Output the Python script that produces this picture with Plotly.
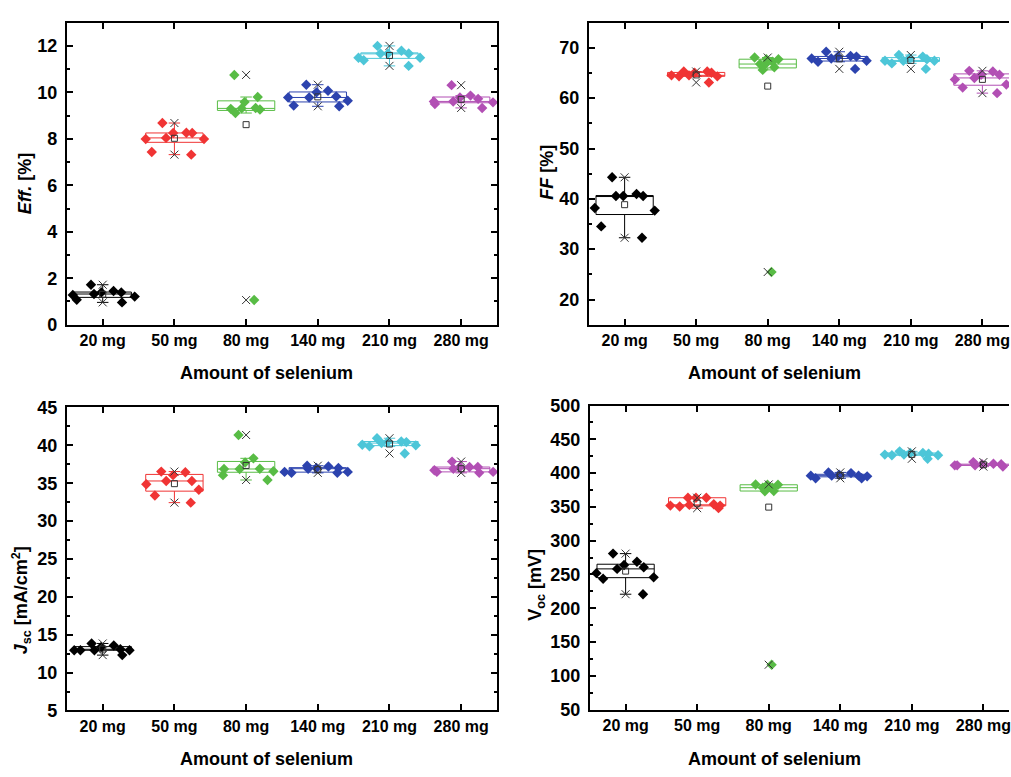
import numpy as np
import plotly.graph_objects as go

# Sample groups (amount of selenium in the precursor)
categories = ["20 mg", "50 mg", "80 mg", "140 mg", "210 mg", "280 mg"]
group_colors = ["#000000", "#F03434", "#58BC45", "#2C43AE", "#4DC6D8", "#B24FB4"]

# Power conversion efficiency [%]
eff_values = [
    [1.39, 0.96, 1.21, 1.45, 1.39, 1.72, 1.07, 1.28, 1.32],
    [7.99, 8.26, 7.99, 8.68, 8.25, 8.04, 8.25, 7.32, 7.43],
    [9.33, 9.80, 9.31, 9.58, 10.75, 9.11, 9.29, 9.26, 1.06],
    [9.40, 9.82, 10.07, 9.78, 10.33, 9.64, 10.00, 9.43, 9.78],
    [11.49, 11.49, 11.67, 11.67, 12.00, 11.14, 11.38, 11.67, 11.79],
    [9.50, 9.57, 9.86, 9.72, 10.31, 9.61, 9.33, 9.78, 9.61],
]

# Fill factor [%]
ff_values = [
    [40.95, 40.56, 40.56, 40.56, 44.28, 38.19, 37.67, 34.53, 32.27],
    [64.34, 65.05, 64.34, 65.30, 64.53, 65.30, 63.12, 65.05, 64.53],
    [66.78, 66.78, 67.74, 67.24, 65.62, 66.14, 68.07, 67.74, 25.47],
    [67.88, 68.38, 69.22, 67.88, 67.43, 65.82, 68.26, 68.26, 67.23],
    [67.99, 67.43, 68.57, 66.91, 65.82, 67.74, 68.26, 67.43, 67.43],
    [64.02, 64.66, 64.66, 65.30, 65.43, 62.73, 61.00, 63.70, 62.10],
]

# Short-circuit current density [mA/cm2]
jsc_values = [
    [12.95, 13.38, 12.95, 12.95, 13.08, 13.85, 12.31, 12.95, 13.59],
    [35.30, 36.45, 36.54, 34.87, 34.15, 35.30, 36.07, 32.44, 33.38],
    [36.58, 36.88, 37.74, 36.92, 38.29, 41.37, 36.88, 36.07, 35.43],
    [37.01, 37.01, 37.22, 36.37, 36.37, 36.92, 37.31, 36.50, 36.50],
    [40.51, 40.51, 40.09, 40.30, 39.87, 40.94, 40.43, 40.00, 38.93],
    [36.50, 36.37, 36.92, 37.14, 37.86, 36.71, 37.14, 36.50, 37.14],
]

# Open-circuit voltage [mV]
voc_values = [
    [260.6, 251.9, 268.7, 245.7, 258.2, 243.7, 280.8, 263.9, 220.7],
    [351.9, 353.8, 351.9, 363.5, 363.5, 363.5, 352.9, 350.5, 348.1],
    [378.4, 378.4, 383.2, 373.6, 382.7, 373.1, 378.4, 382.7, 116.3],
    [397.6, 392.3, 400.0, 396.2, 401.0, 392.3, 396.2, 396.2, 395.2],
    [427.4, 426.4, 426.4, 429.8, 432.2, 428.8, 429.8, 421.2, 427.4],
    [411.5, 413.0, 413.9, 411.5, 416.3, 409.6, 411.5, 411.5, 413.0],
]

W, H = 1011, 777
FONT = "Liberation Sans, Arial, sans-serif"
MARK_GREY = "#333333"
CLEAR = "rgba(0,0,0,0)"


def px_x(p):
    return p / W


def px_y(p):
    return 1 - p / H


# (values, axis suffix, x pixel span, y pixel span, y range, dtick, minor dtick, right border)
panels = [
    (eff_values, "", (67, 498), (13, 323), [0, 13], 2, 1, True),
    (ff_values, "2", (590, W), (13, 323), [15, 75], 10, 5, False),
    (jsc_values, "3", (67, 498), (408, 719), [5, 45], 5, 2.5, True),
    (voc_values, "4", (591, W), (406, 718), [50, 500], 50, 25, False),
]
CAT_PX = 71.7  # pixels per category step

fig = go.Figure()
layout_axes = {}

for values, sfx, (x0, x1), (y0, y1), yrange, dtick, mdtick, right in panels:
    xa, ya = "x" + sfx, "y" + sfx
    for cat, col, vals in zip(categories, group_colors, values):
        # box outline, median and whiskers (outliers hidden, shown below)
        fig.add_trace(go.Box(
            x=[cat] * len(vals), y=vals, xaxis=xa, yaxis=ya, name=cat,
            boxpoints="outliers", width=0.8, whiskerwidth=0.2,
            line=dict(color=col, width=1), fillcolor=CLEAR,
            marker=dict(color=CLEAR, opacity=0, size=1),
            showlegend=False, hoverinfo="y",
        ))
        # individual cells, spread sideways over the box
        fig.add_trace(go.Box(
            x=[cat] * len(vals), y=vals, xaxis=xa, yaxis=ya, name=cat,
            boxpoints="all", jitter=1.0, pointpos=0, width=1.15,
            line=dict(color=CLEAR, width=0), fillcolor=CLEAR,
            marker=dict(symbol="diamond", size=8, color=col),
            showlegend=False, hoverinfo="y",
        ))
        arr = np.array(vals)
        # minimum / maximum crosses and mean square
        fig.add_trace(go.Scatter(
            x=[cat, cat], y=[arr.min(), arr.max()], xaxis=xa, yaxis=ya,
            mode="markers", showlegend=False, hoverinfo="skip",
            marker=dict(symbol="x-thin-open", size=8, color=MARK_GREY,
                        line=dict(width=1, color=MARK_GREY)),
        ))
        fig.add_trace(go.Scatter(
            x=[cat], y=[arr.mean()], xaxis=xa, yaxis=ya,
            mode="markers", showlegend=False, hoverinfo="skip",
            marker=dict(symbol="square-open", size=6, color=MARK_GREY,
                        line=dict(width=1, color=MARK_GREY)),
        ))

    xr_hi = -0.5 + (x1 - x0) / CAT_PX
    key = "" if sfx == "" else sfx
    layout_axes["xaxis" + key] = dict(
        domain=[px_x(x0), px_x(x1)], anchor=ya, type="category",
        categoryorder="array", categoryarray=categories,
        range=[-0.5, min(5.5, xr_hi)],
        showline=True, linewidth=2, linecolor="black", mirror="ticks",
        ticks="inside", ticklen=6, tickwidth=1.5, tickcolor="black",
        tickfont=dict(family=FONT, size=16, color="black", weight="bold"),
        showgrid=False, zeroline=False, fixedrange=True,
    )
    layout_axes["yaxis" + key] = dict(
        domain=[px_y(y1), px_y(y0)], anchor=xa, range=yrange,
        tick0=0, dtick=dtick,
        showline=True, linewidth=2, linecolor="black",
        mirror="ticks" if right else False,
        ticks="inside", ticklen=6, tickwidth=1.5, tickcolor="black",
        minor=dict(ticks="inside", ticklen=3, tickwidth=1.5,
                   tickcolor="black", dtick=mdtick, tick0=0),
        tickfont=dict(family=FONT, size=18, color="black", weight="bold"),
        ticklabelstandoff=4,
        showgrid=False, zeroline=False, fixedrange=True,
    )

title_font = dict(family=FONT, size=18, color="black", weight="bold")
annotations = []
# x-axis titles
for cx, cy in [(267, 373), (776, 373), (267, 769), (776, 769)]:
    annotations.append(dict(
        text="Amount of selenium", x=px_x(cx), y=px_y(cy),
        xref="paper", yref="paper", showarrow=False,
        xanchor="center", yanchor="middle", font=title_font,
    ))
# y-axis titles
for txt, cx, cy in [
    ("<i>Eff.</i> [%]", 25, 178),
    ("<i>FF</i> [%]", 548, 166),
    ("<i>J</i><sub>sc</sub> [mA/cm<sup>2</sup>]", 21, 606),
    ("V<sub>oc</sub> [mV]", 538, 590),
]:
    annotations.append(dict(
        text=txt, x=px_x(cx), y=px_y(cy), xref="paper", yref="paper",
        showarrow=False, textangle=-90, xanchor="center", yanchor="middle",
        font=title_font,
    ))

fig.update_layout(
    width=W, height=H, margin=dict(l=0, r=0, t=0, b=0),
    paper_bgcolor="white", plot_bgcolor="white",
    boxmode="overlay", showlegend=False, annotations=annotations,
    **layout_axes,
)

fig.write_html("out.html")
